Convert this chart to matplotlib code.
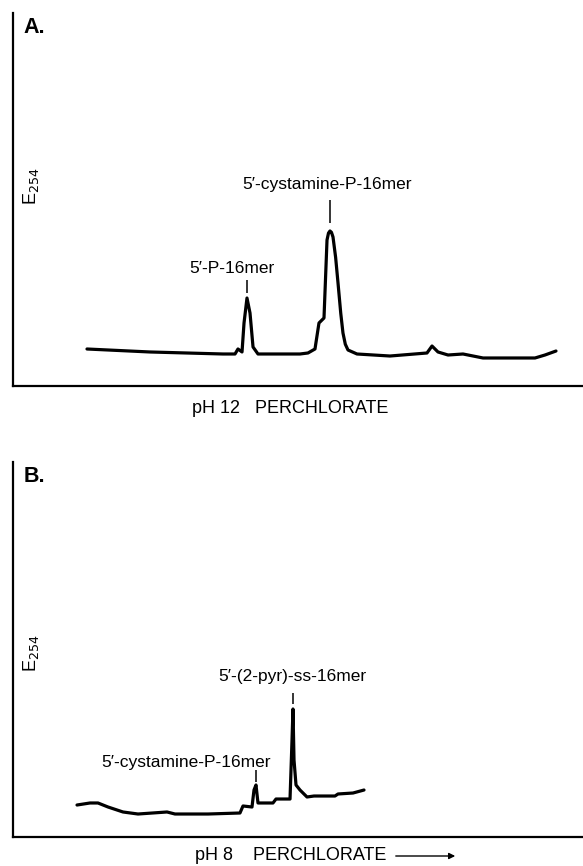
import matplotlib
matplotlib.use("Agg")
import matplotlib.pyplot as plt

plt.rcParams["font.family"] = ["Liberation Sans", "DejaVu Sans"]

# ── Data (elution position 0-100, E254 0-100) ──
elution_a = [12.98, 24.04, 36.84, 38.95, 39.47, 40.18, 40.53, 41.05, 41.58, 42.11,
             42.98, 50.35, 51.75, 52.98, 53.68, 54.56, 55.09, 55.35, 55.61, 55.87,
             56.14, 56.60, 57.02, 57.50, 57.89, 58.30, 58.77, 60.35, 66.14, 72.63,
             73.51, 74.56, 76.32, 78.95, 82.46, 91.58, 93.33, 95.26]
e254_a = [9.92, 9.12, 8.58, 8.58, 9.92, 9.12, 16.89, 23.59, 19.57, 10.46,
          8.58, 8.58, 8.85, 9.92, 16.89, 18.23, 39.14, 41.0, 41.56, 41.2,
          39.95, 34.5, 27.61, 19.5, 14.21, 11.2, 9.65, 8.58, 8.04, 8.85,
          10.72, 9.12, 8.31, 8.58, 7.51, 7.51, 8.31, 9.38]

elution_b = [11.23, 13.51, 14.91, 16.67, 19.30, 21.93, 27.02, 28.42, 34.21, 39.82,
             40.35, 41.93, 42.28, 42.63, 42.98, 45.61, 46.14, 48.60, 48.95, 49.12,
             49.30, 49.65, 50.35, 51.58, 52.81, 56.49, 57.02, 59.65, 61.58]
e254_b = [8.53, 9.07, 9.07, 8.00, 6.67, 6.13, 6.67, 6.13, 6.13, 6.40,
          8.27, 8.00, 12.53, 13.87, 9.07, 9.07, 10.13, 10.13, 25.87, 34.13,
          20.53, 13.87, 12.53, 10.67, 10.93, 10.93, 11.47, 11.73, 12.53]

# peak labels: text, peak position, tick bottom, tick top, text centre height, text x
labels_a = [("5\u2032-P-16mer", 41.05, 24.9, 28.4, 31.6, 38.4),
            ("5\u2032-cystamine-P-16mer", 55.61, 43.7, 49.9, 53.9, 55.1)]
labels_b = [("5\u2032-(2-pyr)-ss-16mer", 49.12, 35.5, 38.4, 42.7, 49.0),
            ("5\u2032-cystamine-P-16mer", 42.63, 14.7, 17.9, 20.0, 30.4)]

W, H = 583, 866
fig = plt.figure(figsize=(W / 100, H / 100), dpi=100)

ax_a = fig.add_axes([13 / W, 1 - 386 / H, 570 / W, 373 / H])
ax_b = fig.add_axes([13 / W, 1 - 837 / H, 570 / W, 375 / H])


def style(ax):
    ax.set_xlim(0, 100)
    ax.set_ylim(0, 100)
    for side in ("top", "right"):
        ax.spines[side].set_visible(False)
    for side in ("left", "bottom"):
        ax.spines[side].set_linewidth(1.6)
    ax.set_xticks([])
    ax.set_yticks([])


for ax, xs, ys, labels, letter, ylab_y in [
        (ax_a, elution_a, e254_a, labels_a, "A.", 53.5),
        (ax_b, elution_b, e254_b, labels_b, "B.", 49.0)]:
    style(ax)
    ax.plot(xs, ys, color="black", lw=2.3, solid_joinstyle="round",
            solid_capstyle="round")
    for text, px, y0, y1, ty, tx in labels:
        ax.vlines(px, y0, y1, color="black", lw=1.1)
        ax.text(tx, ty, text, ha="center", va="center", fontsize=12.5)
    ax.text(0.018, 0.99, letter, ha="left", va="top", fontsize=15.5,
            fontweight="bold", transform=ax.transAxes)
    ax.text(3.2, ylab_y, "E$_{254}$", rotation=90, ha="center", va="center",
            fontsize=13)

fig.text(290 / W, 1 - 409 / H, "pH 12   PERCHLORATE", ha="center", va="center",
         fontsize=13)
fig.text(291 / W, 1 - 856 / H, "pH 8    PERCHLORATE", ha="center", va="center",
         fontsize=13)
fig.add_artist(matplotlib.patches.FancyArrowPatch(
    (393 / W, 1 - 856 / H), (458 / W, 1 - 856 / H), transform=fig.transFigure,
    arrowstyle="-|>", mutation_scale=9, lw=1.0, color="black"))

fig.savefig("out.png", dpi=100)
